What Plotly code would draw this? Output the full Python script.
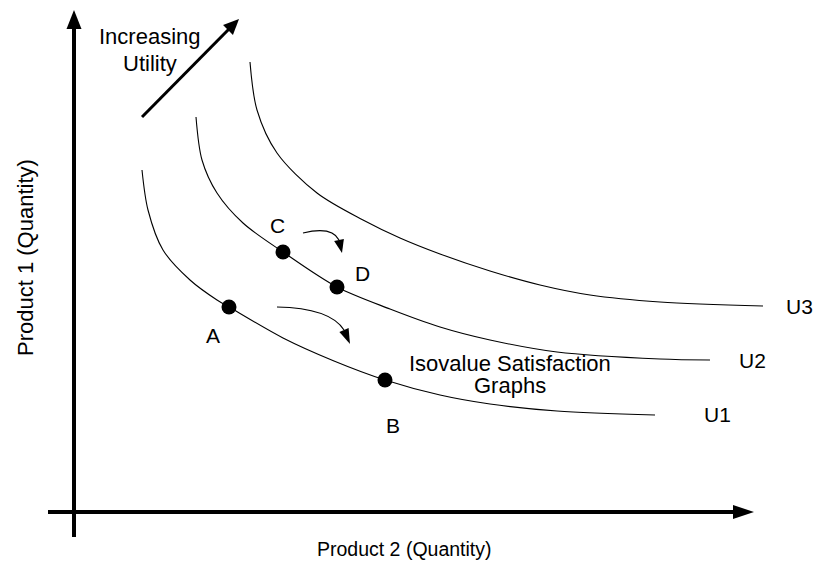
import math
import plotly.graph_objects as go

# ---- data (quantities; origin at axes crossing) ----
u1_x = [68, 74, 89, 116, 143, 155, 209, 260, 311, 366, 416, 483, 581]
u1_y = [342, 302, 262, 232, 212, 205, 174, 151, 132, 117, 108, 101, 97]
u2_x = [122, 128, 143, 169, 209, 263, 316, 366, 416, 483, 586, 636]
u2_y = [395, 352, 319, 289, 260, 225, 203, 185, 172, 160, 153, 152]
u3_x = [176, 183, 203, 243, 289, 326, 366, 416, 466, 516, 586, 689]
u3_y = [450, 402, 359, 319, 292, 274, 258, 241, 227, 217, 210, 206]
curve_names = ["U1", "U2", "U3"]

point_names = ["A", "B", "C", "D"]
point_x = [155, 311, 209, 263]
point_y = [205, 132, 260, 225]

X_RANGE = [-74, 740]
Y_RANGE = [-51, 512]

FONT = "Liberation Sans, Arial, sans-serif"


def P(px, py):
    """convert page pixel position to data units"""
    return px + X_RANGE[0], Y_RANGE[1] - py


fig = go.Figure()
for xs, ys in [(u1_x, u1_y), (u2_x, u2_y), (u3_x, u3_y)]:
    fig.add_trace(go.Scatter(x=xs, y=ys, mode="lines",
                             line=dict(color="black", width=1.1, shape="spline", smoothing=0.9),
                             hoverinfo="skip"))
fig.add_trace(go.Scatter(x=point_x, y=point_y, mode="markers",
                         marker=dict(color="black", size=15), hoverinfo="skip"))

shapes = []
# axes
_, yb = P(74, 537)
_, ytop_base = P(74, 29)
_, ytip = P(74, 10)
shapes.append(dict(type="line", xref="x", yref="y", x0=0, x1=0, y0=yb, y1=ytop_base + 2,
                   line=dict(color="black", width=4)))
hw = 7.5
shapes.append(dict(type="path", xref="x", yref="y",
                   path=f"M{-hw},{ytop_base} L{hw},{ytop_base} L0,{ytip} Z",
                   fillcolor="black", line=dict(color="black", width=0)))
xl, _ = P(48, 512)
xbase, _ = P(733, 512)
xtip, _ = P(754, 512)
shapes.append(dict(type="line", xref="x", yref="y", x0=xl, x1=xbase + 2, y0=0, y1=0,
                   line=dict(color="black", width=4)))
shapes.append(dict(type="path", xref="x", yref="y",
                   path=f"M{xbase},{-7} L{xbase},{7} L{xtip},0 Z",
                   fillcolor="black", line=dict(color="black", width=0)))

# increasing utility arrow
sx, sy = P(142, 117)
bx, by = P(228, 30)
tx, ty = P(239, 19)
shapes.append(dict(type="line", xref="x", yref="y", x0=sx, y0=sy, x1=bx + 2, y1=by + 2,
                   line=dict(color="black", width=3)))
dx, dy = tx - bx, ty - by
L = math.hypot(dx, dy)
nx, ny = -dy / L * 7, dx / L * 7
shapes.append(dict(type="path", xref="x", yref="y",
                   path=f"M{bx+nx},{by+ny} L{bx-nx},{by-ny} L{tx},{ty} Z",
                   fillcolor="black", line=dict(color="black", width=0)))


def curved_arrow(p0, c, base, tip):
    x0_, y0_ = P(*p0)
    cx, cy = P(*c)
    bx_, by_ = P(*base)
    tx_, ty_ = P(*tip)
    shapes.append(dict(type="path", xref="x", yref="y",
                       path=f"M{x0_},{y0_} Q{cx},{cy} {bx_},{by_}",
                       line=dict(color="black", width=1.2)))
    ddx, ddy = tx_ - bx_, ty_ - by_
    LL = math.hypot(ddx, ddy)
    nnx, nny = -ddy / LL * 5, ddx / LL * 5
    shapes.append(dict(type="path", xref="x", yref="y",
                       path=f"M{bx_+nnx},{by_+nny} L{bx_-nnx},{by_-nny} L{tx_},{ty_} Z",
                       fillcolor="black", line=dict(color="black", width=0)))


curved_arrow((277, 307), (330, 308), (344, 330), (350, 344))
curved_arrow((303, 233), (332, 226), (339, 240), (342, 253))

ann = []


def text(s, px, py, size=21, angle=0):
    x, y = P(px, py)
    ann.append(dict(x=x, y=y, xref="x", yref="y", text=s, showarrow=False,
                    xanchor="center", yanchor="middle", textangle=angle,
                    font=dict(family=FONT, size=size, color="black")))


text("Product 1 (Quantity)", 25, 258, size=22, angle=-90)
text("Product 2 (Quantity)", 404, 549, size=19.5)
text("Increasing", 150, 36, size=22)
text("Utility", 150, 63, size=22)
text("Isovalue Satisfaction", 510, 363, size=22)
text("Graphs", 510, 385, size=22)
for nm, (px, py) in zip(point_names, [(213, 335), (393, 425), (277, 225), (362, 273)]):
    text(nm, px, py, size=21)
for nm, (px, py) in zip(curve_names, [(717, 414), (752, 360), (799, 306)]):
    text(nm, px, py, size=21)

fig.update_layout(
    width=814, height=563,
    margin=dict(l=0, r=0, t=0, b=0),
    paper_bgcolor="white", plot_bgcolor="white",
    showlegend=False,
    xaxis=dict(range=X_RANGE, visible=False, fixedrange=True),
    yaxis=dict(range=Y_RANGE, visible=False, fixedrange=True),
    shapes=shapes, annotations=ann,
)

fig.write_html("out.html", config={"displayModeBar": False},
               post_script="document.body.style.margin='0';document.body.style.overflow='hidden';")
